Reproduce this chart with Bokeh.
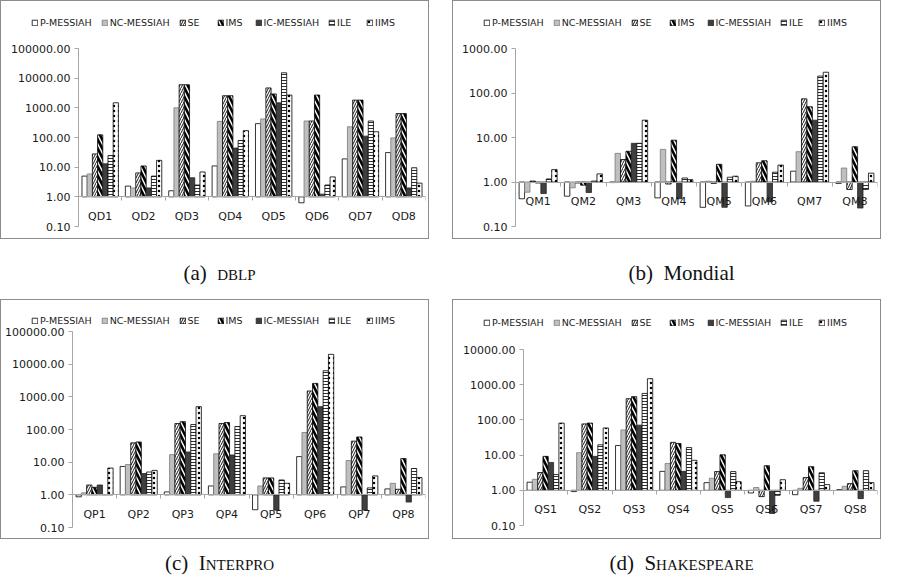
from bokeh.plotting import figure
from bokeh.models import Range1d, FixedTicker, NumeralTickFormatter, Legend, LegendItem, Div
from bokeh.layouts import column, row
from bokeh.embed import file_html
from bokeh.resources import INLINE

SERIES = ["P-MESSIAH", "NC-MESSIAH", "SE", "IMS", "IC-MESSIAH", "ILE", "IIMS"]

# (a) DBLP
dblp_cats = ["QD1", "QD2", "QD3", "QD4", "QD5", "QD6", "QD7", "QD8"]
dblp_p = [5.0, 2.3, 1.6, 11, 293, 0.63, 19, 31]
dblp_nc = [5.9, 2.0, 1000, 350, 423, 360, 230, 97]
dblp_se = [28, 6.4, 6000, 2560, 4680, 360, 1820, 640]
dblp_ims = [123, 11, 6000, 2560, 2930, 2700, 1820, 640]
dblp_ic = [13, 2.0, 4.4, 44, 1480, 1.23, 111, 2.0]
dblp_ile = [24.5, 5.0, 2.5, 79, 15200, 2.5, 360, 9.5]
dblp_iims = [1480, 17, 6.9, 170, 2700, 4.7, 156, 2.9]
dblp_yticks = [0.1, 1, 10, 100, 1000, 10000, 100000]

# (b) Mondial
mondial_cats = ["QM1", "QM2", "QM3", "QM4", "QM5", "QM6", "QM7", "QM8"]
mondial_p = [0.42, 0.48, 0.97, 0.44, 0.27, 0.29, 1.75, 0.93]
mondial_nc = [0.59, 0.74, 4.4, 5.4, 1.04, 1.04, 4.8, 2.06]
mondial_se = [1.05, 0.95, 3.2, 0.9, 0.93, 2.7, 74, 0.68]
mondial_ims = [0.95, 0.85, 4.9, 8.7, 2.5, 3.0, 49, 6.2]
mondial_ic = [0.55, 0.58, 7.4, 0.42, 0.27, 0.36, 24.5, 0.26]
mondial_ile = [1.17, 1.05, 7.4, 1.23, 1.28, 1.66, 240, 0.68]
mondial_iims = [1.9, 1.52, 24.5, 1.13, 1.35, 2.4, 293, 1.58]
mondial_yticks = [0.1, 1, 10, 100, 1000]

# (c) Interpro
interpro_cats = ["QP1", "QP2", "QP3", "QP4", "QP5", "QP6", "QP7", "QP8"]
interpro_p = [0.87, 7.4, 1.23, 1.87, 0.35, 14.8, 1.75, 1.52]
interpro_nc = [1.15, 8.5, 17, 18, 1.87, 81, 11.2, 2.25]
interpro_se = [2.0, 39, 152, 152, 3.3, 1510, 44, 1.48]
interpro_ims = [1.7, 41.5, 174, 163, 3.3, 2580, 59, 12.9]
interpro_ic = [2.0, 4.5, 20.5, 16.6, 0.34, 500, 0.34, 0.6]
interpro_ile = [1.02, 5.0, 142, 123, 2.85, 6300, 1.63, 6.4]
interpro_iims = [6.6, 5.6, 500, 265, 2.25, 20000, 3.8, 3.4]
interpro_yticks = [0.1, 1, 10, 100, 1000, 10000, 100000]

# (d) Shakespeare
shakes_cats = ["QS1", "QS2", "QS3", "QS4", "QS5", "QS6", "QS7", "QS8"]
shakes_p = [1.7, 0.92, 18.7, 3.45, 1.65, 0.84, 0.75, 1.04]
shakes_nc = [2.05, 11.7, 52, 5.8, 2.2, 1.2, 1.14, 1.3]
shakes_se = [3.2, 77, 400, 23, 3.4, 0.66, 2.3, 1.55]
shakes_ims = [9.2, 81, 457, 21.4, 10.2, 5.0, 4.7, 3.6]
shakes_ic = [6.2, 9.2, 71, 3.45, 0.62, 0.22, 0.49, 0.58]
shakes_ile = [2.8, 19.6, 565, 16.4, 3.4, 0.72, 3.15, 3.6]
shakes_iims = [81, 59, 1480, 7.1, 1.76, 2.0, 1.45, 1.65]
shakes_yticks = [0.1, 1, 10, 100, 1000, 10000]

STYLES = [
    dict(fill_color="white", line_color="black"),
    dict(fill_color="#bfbfbf", line_color="#7a7a7a"),
    dict(fill_color="white", line_color="black", hatch_pattern="/", hatch_color="black",
         hatch_scale=5, hatch_weight=0.9),
    dict(fill_color="white", line_color="black", hatch_pattern="\\", hatch_color="black",
         hatch_scale=9, hatch_weight=2.6),
    dict(fill_color="#3f3f3f", line_color="#262626"),
    dict(fill_color="white", line_color="black", hatch_pattern="-", hatch_color="#303030",
         hatch_scale=3, hatch_weight=1),
    dict(fill_color="white", line_color="black", hatch_pattern=".", hatch_color="black",
         hatch_scale=5, hatch_weight=2),
]

W = 427
BW = 0.12
GRAY = "#a6a6a6"
FONT = "DejaVu Sans"
LEG_H = 12


def add_bars(p, centers, data):
    rs = []
    for k, vals in enumerate(data):
        off = (k - 3) * BW
        rs.append(p.vbar(x=[c + off for c in centers], bottom=1, top=vals, width=BW,
                         line_width=0.8, **STYLES[k]))
    return rs


def make_legend_fig(centers, data, lh, cy):
    # legend strip of the panel: same series, its ranges keep the bars out of view
    lf = figure(width=W, height=lh, x_range=Range1d(-20, -19), y_range=Range1d(0, 1),
                output_backend="svg", toolbar_location=None, min_border=0,
                x_axis_location=None, y_axis_location=None, frame_align=False)
    lf.grid.visible = False
    lf.outline_line_color = None
    rs = add_bars(lf, centers, data)
    items = [LegendItem(label=name, renderers=[r]) for name, r in zip(SERIES, rs)]
    leg = Legend(items=items, orientation="horizontal",
                 location=(30, lh - cy - LEG_H / 2),
                 label_text_font=FONT, label_text_font_size="9.5px",
                 label_text_color="#1a1a1a", glyph_width=7, glyph_height=7,
                 label_standoff=2, spacing=9, padding=0, margin=0,
                 label_height=LEG_H, border_line_color=None, background_fill_alpha=0)
    lf.add_layout(leg)
    return lf


def make_panel(cats, data, yticks, left, lh, cy, top, frame_h, bottom):
    n = len(cats)
    p = figure(width=W, height=top + frame_h + bottom, y_axis_type="log",
               x_range=Range1d(0, n), y_range=Range1d(yticks[0], yticks[-1]),
               output_backend="svg", toolbar_location=None, frame_align=False,
               min_border_left=left, min_border_right=3,
               min_border_top=top, min_border_bottom=bottom)
    p.outline_line_color = None
    p.grid.visible = False

    centers = [i + 0.5 for i in range(n)]
    add_bars(p, centers, data)

    yax = p.yaxis[0]
    yax.ticker = FixedTicker(ticks=yticks)
    yax.formatter = NumeralTickFormatter(format="0.00")
    yax.axis_line_color = GRAY
    yax.major_tick_line_color = GRAY
    yax.major_tick_out = 4
    yax.major_tick_in = 0
    yax.minor_tick_line_color = None
    yax.major_label_text_font = FONT
    yax.major_label_text_font_size = "11px"
    yax.major_label_text_color = "#1a1a1a"
    yax.major_label_standoff = 4

    xax = p.xaxis[0]
    xax.fixed_location = 1
    xax.ticker = FixedTicker(ticks=centers, minor_ticks=list(range(n + 1)))
    xax.major_label_overrides = {c: cat for c, cat in zip(centers, cats)}
    xax.axis_line_color = GRAY
    xax.major_tick_line_color = None
    xax.major_tick_out = 0
    xax.major_tick_in = 0
    xax.minor_tick_line_color = GRAY
    xax.minor_tick_out = 4
    xax.minor_tick_in = 0
    xax.major_label_text_font = FONT
    xax.major_label_text_font_size = "11px"
    xax.major_label_text_color = "#1a1a1a"
    xax.major_label_standoff = 9

    lf = make_legend_fig(centers, data, lh, cy)
    return column(lf, p, spacing=0, styles={"border": "1px solid #8c8c8c"})


def caption(content, h, pad):
    html = ('<div style="width:429px;height:%dpx;padding-top:%dpx;box-sizing:border-box;'
            'text-align:center;font-family:\'Liberation Serif\';font-size:21px;'
            'line-height:21px;color:#111">%s</div>') % (h, pad, content)
    return Div(text=html, width=429, height=h)


# legend strip height, legend centre, chart top border, frame height, bottom border
pa = make_panel(dblp_cats, [dblp_p, dblp_nc, dblp_se, dblp_ims, dblp_ic, dblp_ile, dblp_iims],
                dblp_yticks, 77, 32, 21, 15, 178, 12)
pb = make_panel(mondial_cats, [mondial_p, mondial_nc, mondial_se, mondial_ims, mondial_ic,
                               mondial_ile, mondial_iims],
                mondial_yticks, 62, 32, 21, 15, 178, 12)
pc = make_panel(interpro_cats, [interpro_p, interpro_nc, interpro_se, interpro_ims, interpro_ic,
                                interpro_ile, interpro_iims],
                interpro_yticks, 71, 25, 20, 6, 196, 11)
pd = make_panel(shakes_cats, [shakes_p, shakes_nc, shakes_se, shakes_ims, shakes_ic,
                              shakes_ile, shakes_iims],
                shakes_yticks, 70, 30, 22, 19, 176, 13)

ca = caption('(a)&nbsp;&nbsp;<span style="font-size:15px">DBLP</span>', 50, 19)
cb = caption('(b)&nbsp;&nbsp;Mondial', 50, 19)
cc = caption('(c)&nbsp;&nbsp;<span style="font-variant:small-caps">Interpro</span>', 30, 9)
cd = caption('(d)&nbsp;&nbsp;<span style="font-variant:small-caps">Shakespeare</span>', 30, 9)

layout = column(row(pa, pb, spacing=23), row(ca, cb, spacing=23),
                row(pc, pd, spacing=23), row(cc, cd, spacing=23))

open("out.html", "w").write(file_html(layout, INLINE))
